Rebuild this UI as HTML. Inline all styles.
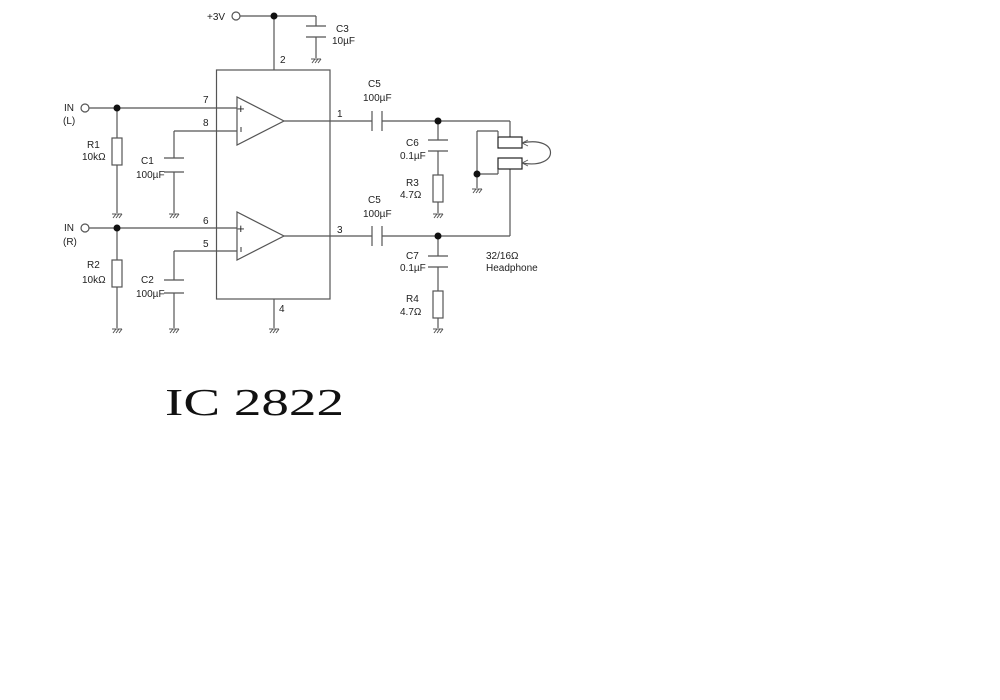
<!DOCTYPE html>
<html><head><meta charset="utf-8"><style>
html,body{margin:0;padding:0;background:#fff;}
svg{display:block;}
text{font-family:"Liberation Sans",sans-serif;font-size:10px;fill:#222;}
</style></head><body>
<svg width="1000" height="700" viewBox="0 0 1000 700" xmlns="http://www.w3.org/2000/svg">
<defs>
<g id="gnd" stroke="#555" stroke-width="1" fill="none">
<line x1="-5" y1="0" x2="5" y2="0"/>
<line x1="-4" y1="4" x2="-1" y2="0"/><line x1="-1" y1="4" x2="2" y2="0"/><line x1="2" y1="4" x2="5" y2="0"/>
</g>
</defs>
<g stroke="#555" stroke-width="1.2" fill="none">
<circle cx="236" cy="16" r="4" fill="#fff"/>
<line x1="240" y1="16" x2="316" y2="16"/>
<line x1="316" y1="16" x2="316" y2="26"/>
<line x1="306" y1="26" x2="326" y2="26"/>
<line x1="306" y1="37" x2="326" y2="37"/>
<line x1="316" y1="37" x2="316" y2="58"/>
<line x1="274" y1="16" x2="274" y2="70"/>
<rect x="216.5" y="70" width="113.5" height="229"/>
<polygon points="237,97 237,145 284,121"/>
<polygon points="237,212 237,260 284,236"/>
<circle cx="85" cy="108" r="4" fill="#fff"/>
<line x1="89" y1="108" x2="237" y2="108"/>
<line x1="117" y1="108" x2="117" y2="138"/>
<rect x="112" y="138" width="10" height="27"/>
<line x1="117" y1="165" x2="117" y2="213"/>
<line x1="174" y1="131" x2="237" y2="131"/>
<line x1="174" y1="131" x2="174" y2="158"/>
<line x1="164" y1="158" x2="184" y2="158"/>
<line x1="164" y1="172" x2="184" y2="172"/>
<line x1="174" y1="172" x2="174" y2="213"/>
<circle cx="85" cy="228" r="4" fill="#fff"/>
<line x1="89" y1="228" x2="237" y2="228"/>
<line x1="117" y1="228" x2="117" y2="260"/>
<rect x="112" y="260" width="10" height="27"/>
<line x1="117" y1="287" x2="117" y2="328"/>
<line x1="174" y1="251" x2="237" y2="251"/>
<line x1="174" y1="251" x2="174" y2="280"/>
<line x1="164" y1="280" x2="184" y2="280"/>
<line x1="164" y1="293" x2="184" y2="293"/>
<line x1="174" y1="293" x2="174" y2="328"/>
<line x1="274" y1="299" x2="274" y2="328"/>
<line x1="284" y1="121" x2="372" y2="121"/>
<line x1="372" y1="111" x2="372" y2="131"/>
<line x1="382" y1="111" x2="382" y2="131"/>
<line x1="382" y1="121" x2="510" y2="121"/>
<line x1="510" y1="121" x2="510" y2="137"/>
<line x1="438" y1="121" x2="438" y2="140"/>
<line x1="428" y1="140" x2="448" y2="140"/>
<line x1="428" y1="151" x2="448" y2="151"/>
<line x1="438" y1="151" x2="438" y2="175"/>
<rect x="433" y="175" width="10" height="27"/>
<line x1="438" y1="202" x2="438" y2="213"/>
<line x1="284" y1="236" x2="372" y2="236"/>
<line x1="372" y1="226" x2="372" y2="246"/>
<line x1="382" y1="226" x2="382" y2="246"/>
<line x1="382" y1="236" x2="510" y2="236"/>
<line x1="510" y1="236" x2="510" y2="169"/>
<line x1="438" y1="236" x2="438" y2="256"/>
<line x1="428" y1="256" x2="448" y2="256"/>
<line x1="428" y1="267" x2="448" y2="267"/>
<line x1="438" y1="267" x2="438" y2="291"/>
<rect x="433" y="291" width="10" height="27"/>
<line x1="438" y1="318" x2="438" y2="328"/>
<rect x="498" y="137" width="24" height="11" stroke="#222"/>
<rect x="498" y="158" width="24" height="11" stroke="#222"/>
<line x1="477" y1="131" x2="498" y2="131"/>
<line x1="498" y1="131" x2="498" y2="137"/>
<line x1="477" y1="131" x2="477" y2="188"/>
<line x1="477" y1="174" x2="498" y2="174"/>
<line x1="498" y1="174" x2="498" y2="169"/>
<path d="M522,143 C560,135 560,170 522,163"/>
<path d="M522,143 l6,-3 M522,143 l6,3 M522,163 l6,-3 M522,163 l6,3" stroke-width="0.8"/>
</g>
<g fill="#111">
<circle cx="274" cy="16" r="3.5"/>
<circle cx="117" cy="108" r="3.5"/>
<circle cx="117" cy="228" r="3.5"/>
<circle cx="438" cy="121" r="3.5"/>
<circle cx="438" cy="236" r="3.5"/>
<circle cx="477" cy="174" r="3.5"/>
</g>
<use href="#gnd" x="316" y="59"/>
<use href="#gnd" x="117" y="214"/>
<use href="#gnd" x="174" y="214"/>
<use href="#gnd" x="117" y="329"/>
<use href="#gnd" x="174" y="329"/>
<use href="#gnd" x="274" y="329"/>
<use href="#gnd" x="438" y="214"/>
<use href="#gnd" x="438" y="329"/>
<use href="#gnd" x="477" y="189"/>
<text x="237" y="113" style="font-size:13px">+</text>
<line x1="241" y1="127" x2="241" y2="132" stroke="#333"/>
<text x="237" y="233" style="font-size:13px">+</text>
<line x1="241" y1="247" x2="241" y2="252" stroke="#333"/>
<text x="207" y="20">+3V</text>
<text x="336" y="32">C3</text>
<text x="332" y="44">10µF</text>
<text x="280" y="63">2</text>
<text x="64" y="111">IN</text>
<text x="63" y="124">(L)</text>
<text x="64" y="231">IN</text>
<text x="63" y="245">(R)</text>
<text x="87" y="148">R1</text>
<text x="82" y="160">10kΩ</text>
<text x="87" y="268">R2</text>
<text x="82" y="283">10kΩ</text>
<text x="141" y="164">C1</text>
<text x="136" y="178">100µF</text>
<text x="141" y="283">C2</text>
<text x="136" y="297">100µF</text>
<text x="203" y="103">7</text>
<text x="203" y="126">8</text>
<text x="203" y="224">6</text>
<text x="203" y="247">5</text>
<text x="337" y="117">1</text>
<text x="337" y="233">3</text>
<text x="279" y="312">4</text>
<text x="368" y="87">C5</text>
<text x="363" y="101">100µF</text>
<text x="368" y="203">C5</text>
<text x="363" y="217">100µF</text>
<text x="406" y="146">C6</text>
<text x="400" y="159">0.1µF</text>
<text x="406" y="186">R3</text>
<text x="400" y="198">4.7Ω</text>
<text x="406" y="259">C7</text>
<text x="400" y="271">0.1µF</text>
<text x="406" y="302">R4</text>
<text x="400" y="315">4.7Ω</text>
<text x="486" y="259">32/16Ω</text>
<text x="486" y="271">Headphone</text>
<text x="165" y="415" textLength="179" lengthAdjust="spacingAndGlyphs" style="font-family:'Liberation Serif',serif;font-size:38px;fill:#111">IC 2822</text>
</svg>
</body></html>
